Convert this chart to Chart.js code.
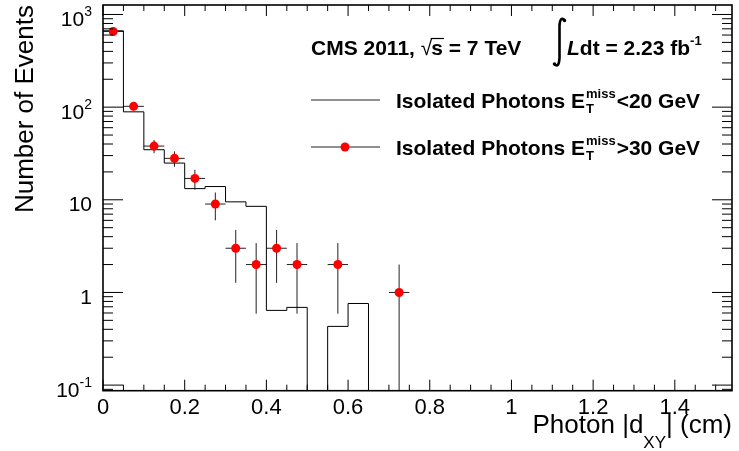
<!DOCTYPE html>
<html>
<head>
<meta charset="utf-8">
<script src="https://cdn.jsdelivr.net/npm/chart.js@4.4.0/dist/chart.umd.min.js"></script>
<style>
  html, body { margin: 0; padding: 0; background: #fff; }
  canvas { display: block; }
</style>
</head>
<body>
<canvas id="dxy_chart" width="739" height="451"></canvas>
<script>
// bin edges of the photon |dXY| histogram (cm)
var binEdges = [0, 0.05, 0.1, 0.15, 0.2, 0.25, 0.3, 0.35, 0.4, 0.45, 0.5, 0.55, 0.6, 0.65];
// MET < 20 GeV histogram contents per bin (normalised)
var histLowMet = [667, 89, 34.7, 24.9, 13.2, 13.9, 9.5, 8.5, 0.64, 0.69, 0, 0.43, 0.76];
// MET > 30 GeV data points
var dataX = [0.025, 0.075, 0.125, 0.175, 0.225, 0.275, 0.325, 0.375, 0.425, 0.475, 0.575, 0.725];
var dataHighMet = [656, 102, 38, 28, 17, 9, 3, 2, 3, 2, 2, 1];
var dataErr = [25.6, 10.1, 6.2, 5.3, 4.1, 3.0, 1.73, 1.41, 1.73, 1.41, 1.41, 1.0];
var binHalfWidth = 0.025;

var xTicks = [0, 0.2, 0.4, 0.6, 0.8, 1, 1.2, 1.4];
var yTicks = [0.1, 1, 10, 100, 1000];
var yTickBase = ['10', '1', '10', '10', '10'];
var yTickExp = ['-1', '', '', '2', '3'];

var xMin = 0, xMax = 1.54;
var yMin = 0.087, yMax = 1266;

var FONT = '"Liberation Sans", Arial, Helvetica, sans-serif';

// histogram as a stepped line through the bin edges (empty bins sit on the frame)
var histPoints = [];
for (var i = 0; i < histLowMet.length; i++) {
  histPoints.push({ x: binEdges[i], y: histLowMet[i] > 0 ? histLowMet[i] : yMin });
}
histPoints.push({ x: binEdges[histLowMet.length], y: yMin });

var dataPoints = dataX.map(function (x, i) { return { x: x, y: dataHighMet[i] }; });

function font(size, bold, italic) {
  return (italic ? 'italic ' : '') + (bold ? 'bold ' : '') + size + 'px ' + FONT;
}

// draw a list of text runs one after another, returns end x
function drawRuns(ctx, x, y, runs) {
  runs.forEach(function (r) {
    ctx.font = font(r.size, r.bold, r.italic);
    ctx.fillText(r.text, x, y + (r.dy || 0));
    x += ctx.measureText(r.text).width + (r.dx || 0);
  });
  return x;
}

function drawEmissT(ctx, x, y, tail) {
  x = drawRuns(ctx, x, y, [{ text: 'Isolated Photons E', size: 21, bold: true }]);
  ctx.font = font(13, true);
  var w1 = ctx.measureText('miss').width;
  ctx.fillText('miss', x + 1, y - 10);
  ctx.fillText('T', x + 1, y + 5);
  x += w1 + 2;
  drawRuns(ctx, x, y, [{ text: tail, size: 21, bold: true }]);
}

var rootStyle = {
  id: 'rootStyle',
  beforeDatasetsDraw: function (chart) {
    var ctx = chart.ctx, xs = chart.scales.x, ys = chart.scales.y;
    ctx.save();
    ctx.strokeStyle = '#222';
    ctx.lineWidth = 1;
    ctx.beginPath();
    for (var i = 0; i < dataX.length; i++) {
      var px = xs.getPixelForValue(dataX[i]);
      var py = ys.getPixelForValue(dataHighMet[i]);
      var lo = dataHighMet[i] - dataErr[i];
      var pLo = lo > yMin ? ys.getPixelForValue(lo) : chart.chartArea.bottom;
      var pHi = ys.getPixelForValue(dataHighMet[i] + dataErr[i]);
      ctx.moveTo(xs.getPixelForValue(dataX[i] - binHalfWidth), py);
      ctx.lineTo(xs.getPixelForValue(dataX[i] + binHalfWidth), py);
      ctx.moveTo(px, pLo);
      ctx.lineTo(px, pHi);
    }
    ctx.stroke();
    ctx.restore();
  },
  afterDraw: function (chart) {
    var ctx = chart.ctx, xs = chart.scales.x, ys = chart.scales.y, a = chart.chartArea;
    ctx.save();
    ctx.strokeStyle = '#000';
    ctx.fillStyle = '#000';

    // ticks on all four sides, pointing inwards
    ctx.lineWidth = 1;
    ctx.beginPath();
    for (var k = 0; k <= 30; k++) {
      var v = k * 0.05;
      if (v > xMax) break;
      var px = xs.getPixelForValue(v);
      var len = (k % 4 === 0) ? 11 : 6;
      ctx.moveTo(px, a.bottom); ctx.lineTo(px, a.bottom - len);
      ctx.moveTo(px, a.top); ctx.lineTo(px, a.top + len);
    }
    for (var d = -2; d <= 3; d++) {
      for (var m = 1; m <= 9; m++) {
        var yv = m * Math.pow(10, d);
        if (yv < yMin || yv > yMax) continue;
        var py = ys.getPixelForValue(yv);
        var l = (m === 1) ? 20 : 10;
        ctx.moveTo(a.left, py); ctx.lineTo(a.left + l, py);
        ctx.moveTo(a.right, py); ctx.lineTo(a.right - l, py);
      }
    }
    ctx.stroke();

    // frame
    ctx.lineWidth = 1.6;
    ctx.strokeRect(a.left, a.top, a.right - a.left, a.bottom - a.top);

    // y tick labels with exponents
    ctx.textBaseline = 'alphabetic';
    ctx.textAlign = 'left';
    for (var t = 0; t < yTicks.length; t++) {
      var ty = ys.getPixelForValue(yTicks[t]);
      ctx.font = font(21);
      var wb = ctx.measureText(yTickBase[t]).width;
      ctx.font = font(14);
      var we = yTickExp[t] ? ctx.measureText(yTickExp[t]).width : 0;
      var x0 = 92 - wb - we;
      ctx.font = font(21);
      ctx.fillText(yTickBase[t], x0, ty + 11.5);
      if (yTickExp[t]) {
        ctx.font = font(14);
        ctx.fillText(yTickExp[t], x0 + wb, ty + 2);
      }
    }

    // y title
    ctx.save();
    ctx.translate(33, 5);
    ctx.rotate(-Math.PI / 2);
    ctx.textAlign = 'right';
    ctx.font = font(26);
    ctx.fillText('Number of Events', 0, 0);
    ctx.restore();

    // x title: Photon |d_XY| (cm), right aligned
    ctx.font = font(26);
    var w1 = ctx.measureText('Photon |d').width;
    var w3 = ctx.measureText('| (cm)').width;
    ctx.font = font(17);
    var w2 = ctx.measureText('XY').width;
    var xs0 = 732 - (w1 + w2 + w3);
    drawRuns(ctx, xs0, 433, [
      { text: 'Photon |d', size: 26 },
      { text: 'XY', size: 17, dy: 15 },
      { text: '| (cm)', size: 26 }
    ]);

    // header: CMS 2011, sqrt(s) = 7 TeV   int L dt = 2.23 fb-1
    var hx = drawRuns(ctx, 311, 55, [{ text: 'CMS 2011, ', size: 21, bold: true }]);
    ctx.font = font(21);
    var wr = ctx.measureText('\u221A').width;
    ctx.fillText('\u221A', hx, 55);
    ctx.font = font(21, true);
    var ws = ctx.measureText('s').width;
    ctx.fillText('s', hx + wr - 1, 55);
    ctx.lineWidth = 1.2;
    ctx.beginPath();
    ctx.moveTo(hx + wr - 1.5, 38.5);
    ctx.lineTo(hx + wr + ws, 38.5);
    ctx.stroke();
    drawRuns(ctx, hx + wr + ws - 1, 55, [{ text: ' = 7 TeV', size: 21, bold: true }]);

    // integral sign
    ctx.lineWidth = 2.6;
    ctx.beginPath();
    ctx.moveTo(564.5, 20);
    ctx.quadraticCurveTo(560, 16, 559.5, 26);
    ctx.lineTo(559.5, 58);
    ctx.quadraticCurveTo(559, 68, 554.5, 64.5);
    ctx.stroke();
    ctx.beginPath();
    ctx.arc(564.5, 20.5, 1.8, 0, Math.PI * 2);
    ctx.arc(554.5, 64, 1.8, 0, Math.PI * 2);
    ctx.fill();
    var ix = drawRuns(ctx, 567, 55, [
      { text: 'L', size: 21, bold: true, italic: true },
      { text: 'dt = 2.23 fb', size: 21, bold: true }
    ]);
    drawRuns(ctx, ix, 45, [{ text: '-1', size: 13, bold: true }]);

    // legend
    ctx.strokeStyle = '#222';
    ctx.lineWidth = 1;
    ctx.beginPath();
    ctx.moveTo(311, 100); ctx.lineTo(380, 100);
    ctx.moveTo(311, 147); ctx.lineTo(380, 147);
    ctx.stroke();
    ctx.fillStyle = '#ff0000';
    ctx.beginPath();
    ctx.arc(345, 147, 4.5, 0, Math.PI * 2);
    ctx.fill();
    ctx.fillStyle = '#000';
    drawEmissT(ctx, 396, 108, '<20 GeV');
    drawEmissT(ctx, 396, 155, '>30 GeV');

    ctx.restore();
  }
};

var ctx1 = document.getElementById('dxy_chart').getContext('2d');

var dxyChart = new Chart(ctx1, {
  type: 'line',
  data: {
    datasets: [{
      label: 'Isolated Photons MET < 20 GeV',
      data: histPoints,
      stepped: 'before',
      borderColor: '#000',
      borderWidth: 1,
      pointRadius: 0,
      fill: false,
      order: 2
    }, {
      label: 'Isolated Photons MET > 30 GeV',
      data: dataPoints,
      showLine: false,
      pointRadius: 4.5,
      pointBackgroundColor: '#ff0000',
      pointBorderWidth: 0,
      pointBorderColor: '#ff0000',
      order: 1
    }]
  },
  options: {
    responsive: false,
    animation: false,
    layout: { padding: { left: 103, top: 5, right: 7, bottom: 0 } },
    plugins: {
      legend: { display: false },
      tooltip: { enabled: false }
    },
    scales: {
      x: {
        type: 'linear',
        min: xMin,
        max: xMax,
        grid: { display: false, drawTicks: false },
        border: { display: false },
        afterBuildTicks: function (s) { s.ticks = xTicks.map(function (v) { return { value: v }; }); },
        afterFit: function (s) { s.height = 60.3; },
        ticks: {
          color: '#000',
          padding: 4,
          maxRotation: 0,
          autoSkip: false,
          font: { family: FONT, size: 22 },
          callback: function (v) { return String(v); }
        }
      },
      y: {
        type: 'logarithmic',
        min: yMin,
        max: yMax,
        display: false
      }
    }
  },
  plugins: [rootStyle]
});
</script>
</body>
</html>
